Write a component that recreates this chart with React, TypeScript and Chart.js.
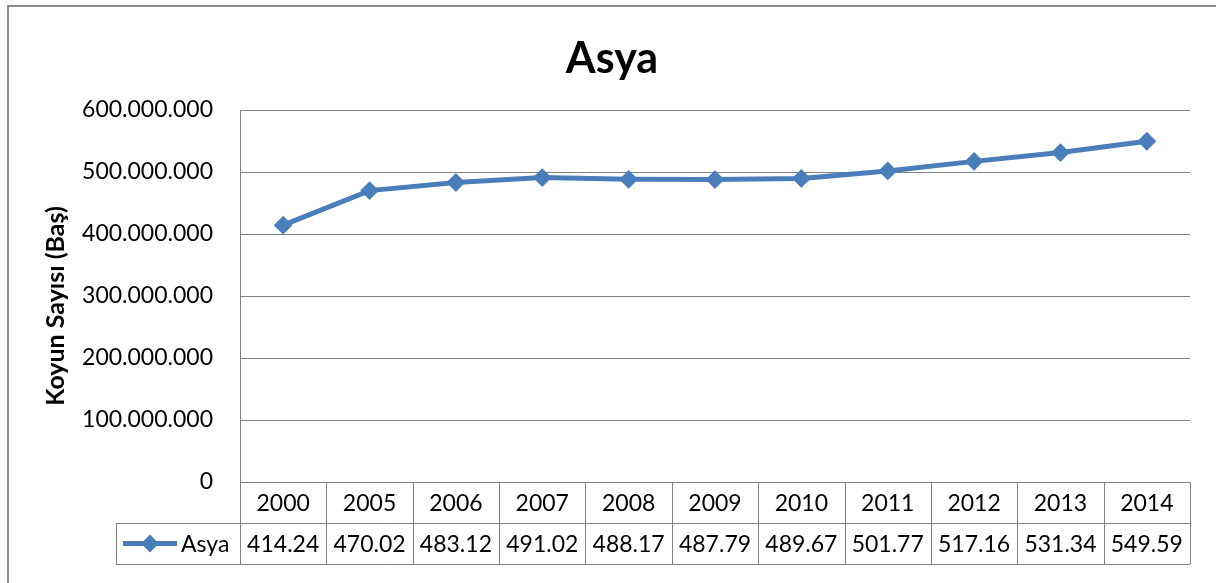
import React, { useEffect, useRef } from "react";
import { Chart, registerables } from "chart.js";

Chart.register(...registerables);

const categories = ["2000", "2005", "2006", "2007", "2008", "2009", "2010", "2011", "2012", "2013", "2014"];
const asyaMillions = [414.24, 470.02, 483.12, 491.02, 488.17, 487.79, 489.67, 501.77, 517.16, 531.34, 549.59];
const yTickValues = [0, 100000000, 200000000, 300000000, 400000000, 500000000, 600000000];
const seriesName = "Asya";
const chartTitle = "Asya";
const yAxisTitle = "Koyun Sayısı (Baş)";

const FONT = "Lato, 'Open Sans', sans-serif";
const LINE_COLOR = "#4A7EBB";
const GRID_COLOR = "#828282";

const fmt = (v: number) => String(Math.round(v)).replace(/\B(?=(\d{3})+(?!\d))/g, ".");

const frameAndTablePlugin = {
  id: "frameAndTable",
  beforeDraw(chart: any) {
    const ctx = chart.ctx;
    ctx.save();
    ctx.fillStyle = "#ffffff";
    ctx.fillRect(0, 0, chart.width, chart.height);
    ctx.strokeStyle = "#8c8c8c";
    ctx.lineWidth = 2;
    ctx.beginPath();
    ctx.moveTo(8, chart.height + 5);
    ctx.lineTo(8, 6);
    ctx.lineTo(chart.width + 5, 6);
    ctx.stroke();
    ctx.restore();
  },
  afterDraw(chart: any) {
    const { ctx, chartArea } = chart;
    const xs = chart.scales.x;
    const left = chartArea.left;
    const right = chartArea.right;
    const top = chartArea.bottom;
    const rowH = 41;
    const r1 = top + rowH;
    const r2 = top + 2 * rowH;
    const legendLeft = 116;
    const n = categories.length;
    const bw = (right - left) / n;
    const px = (v: number) => Math.round(v) + 0.5;

    ctx.save();
    ctx.strokeStyle = GRID_COLOR;
    ctx.lineWidth = 1;
    const line = (x1: number, y1: number, x2: number, y2: number) => {
      ctx.beginPath();
      ctx.moveTo(x1, y1);
      ctx.lineTo(x2, y2);
      ctx.stroke();
    };
    line(legendLeft, px(r1), right, px(r1));
    line(legendLeft, px(r2), right, px(r2));
    line(px(left), chartArea.top, px(left), r2);
    line(px(legendLeft), r1, px(legendLeft), r2);
    for (let i = 1; i <= n; i++) {
      const xv = px(left + i * bw);
      line(xv, top, xv, r2);
    }

    ctx.fillStyle = "#000000";
    ctx.font = `23px ${FONT}`;
    ctx.textAlign = "center";
    ctx.textBaseline = "middle";
    for (let i = 0; i < n; i++) {
      const cx = xs.getPixelForValue(i);
      ctx.fillText(categories[i], cx, top + rowH / 2 + 1);
      ctx.fillText(asyaMillions[i].toFixed(2), cx, r1 + rowH / 2 + 1);
    }

    // legend key
    const ky = r1 + rowH / 2;
    ctx.strokeStyle = LINE_COLOR;
    ctx.lineWidth = 5;
    ctx.beginPath();
    ctx.moveTo(123, ky);
    ctx.lineTo(177, ky);
    ctx.stroke();
    ctx.fillStyle = LINE_COLOR;
    ctx.beginPath();
    ctx.moveTo(150, ky - 9);
    ctx.lineTo(159, ky);
    ctx.lineTo(150, ky + 9);
    ctx.lineTo(141, ky);
    ctx.closePath();
    ctx.fill();
    ctx.fillStyle = "#000000";
    ctx.textAlign = "left";
    ctx.fillText(seriesName, 181, ky + 1);

    // chart title
    ctx.font = `bold 43px ${FONT}`;
    ctx.textAlign = "center";
    ctx.textBaseline = "middle";
    ctx.fillText(chartTitle, 612, 59);

    // y axis title
    ctx.save();
    ctx.translate(56, 306);
    ctx.rotate(-Math.PI / 2);
    ctx.font = `bold 25px ${FONT}`;
    ctx.textAlign = "center";
    ctx.textBaseline = "middle";
    ctx.fillText(yAxisTitle, 0, 0);
    ctx.restore();

    ctx.restore();
  },
};

export default function App() {
  const canvasRef = useRef<HTMLCanvasElement | null>(null);

  useEffect(() => {
    const canvas = canvasRef.current;
    if (!canvas) return;
    const chart = new Chart(canvas, {
      type: "line",
      data: {
        labels: categories,
        datasets: [
          {
            label: seriesName,
            data: asyaMillions.map((v) => v * 1000000),
            borderColor: LINE_COLOR,
            backgroundColor: LINE_COLOR,
            borderWidth: 5,
            pointStyle: "rectRot",
            pointRadius: 8,
            pointBorderWidth: 2,
            pointBackgroundColor: LINE_COLOR,
            pointBorderColor: LINE_COLOR,
            tension: 0,
          },
        ],
      },
      options: {
        responsive: false,
        animation: false,
        layout: { padding: { left: 0, right: 26, top: 110, bottom: 101 } },
        plugins: {
          legend: { display: false },
          tooltip: { enabled: false },
          title: { display: false },
        },
        scales: {
          x: {
            display: false,
            offset: true,
          },
          y: {
            min: 0,
            max: 600000000,
            afterFit: (scale: any) => {
              scale.width = 240;
            },
            afterBuildTicks: (scale: any) => {
              scale.ticks = yTickValues.map((v) => ({ value: v }));
            },
            border: { display: false },
            grid: { color: GRID_COLOR, lineWidth: 1, drawTicks: false },
            ticks: {
              padding: 27,
              color: "#000000",
              font: { family: FONT, size: 23 },
              callback: (v: any) => fmt(Number(v)),
            },
          },
        },
      },
      plugins: [frameAndTablePlugin],
    });
    return () => chart.destroy();
  }, []);

  return (
    <div style={{ position: "fixed", left: 0, top: 0, width: 1216, height: 583 }}>
      <canvas ref={canvasRef} width={1216} height={583} />
    </div>
  );
}
